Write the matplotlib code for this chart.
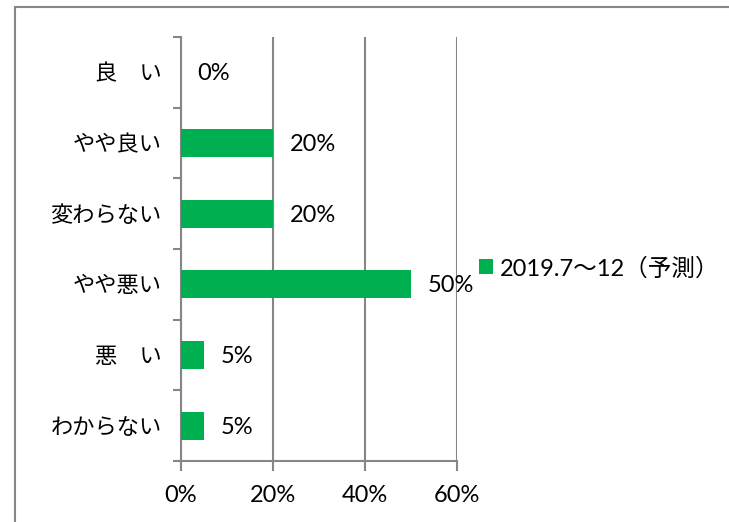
import matplotlib.pyplot as plt
from matplotlib.patches import Rectangle, Patch

plt.rcParams['font.family'] = ['Lato', 'Noto Sans CJK JP', 'DejaVu Sans']

# data
categories = ['良\u3000い', 'やや良い', '変わらない', 'やや悪い', '悪\u3000い', 'わからない']
values = [0, 20, 20, 50, 5, 5]
series_name = '2019.7～12（予測）'
xticks = [0, 20, 40, 60]

green = '#00B050'
grey = '#868686'

fig = plt.figure(figsize=(7.29, 5.22), dpi=100)
ax = fig.add_axes([181 / 729, 61 / 522, 276 / 729, 424 / 522])

# outer chart border (runs off the right / bottom edge like the source)
fig.patches.append(Rectangle((15 / 729, -0.1), 1.2, 1 - 7 / 522 + 0.1,
                             transform=fig.transFigure, fill=False,
                             edgecolor=grey, linewidth=1.5))

ypos = list(range(len(categories)))[::-1]
ax.barh(ypos, values, height=0.4, color=green, zorder=3)

for y, v in zip(ypos, values):
    ax.annotate(f'{v}%', (v, y), xytext=(12, -1), textcoords='offset points',
                va='center', ha='left', fontsize=17)

ax.set_xlim(0, 60)
ax.set_ylim(-0.5, len(categories) - 0.5)
ax.set_xticks(xticks)
ax.set_xticklabels([f'{t}%' for t in xticks], fontsize=17)
ax.set_yticks(ypos)
ax.set_yticklabels(categories, fontsize=16)
ax.set_yticks([i - 0.5 for i in range(len(categories) + 1)], minor=True)

ax.tick_params(axis='y', which='major', length=0, pad=14)
ax.tick_params(axis='y', which='minor', length=6, color=grey, width=1.5)
ax.tick_params(axis='x', length=7, color=grey, width=1.5, pad=10)

ax.grid(axis='x', color=grey, linewidth=1.5, zorder=0)
for s in ['top', 'right']:
    ax.spines[s].set_visible(False)
for s in ['left', 'bottom']:
    ax.spines[s].set_color(grey)
    ax.spines[s].set_linewidth(1.5)

handle = Patch(facecolor=green, edgecolor='none')
fig.legend([handle], [series_name], loc='center left',
           bbox_to_anchor=(467 / 729, 1 - 268 / 522), frameon=False,
           fontsize=17, handlelength=0.6, handleheight=0.6,
           handletextpad=0.3, borderpad=0)

fig.savefig('out.png', dpi=100)
